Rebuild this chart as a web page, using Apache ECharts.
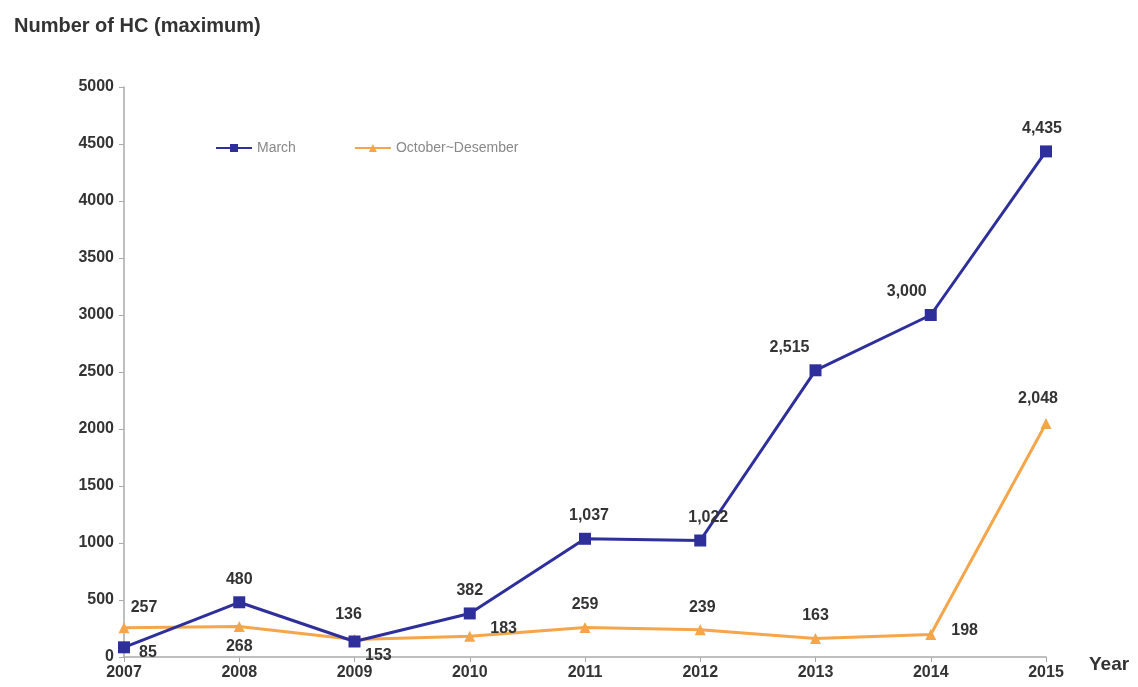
<!DOCTYPE html>
<html>
<head>
<meta charset="utf-8">
<script src="https://cdn.jsdelivr.net/npm/echarts@6/dist/echarts.min.js"></script>
<style>html,body{margin:0;padding:0;background:#fff}#c{width:1138px;height:687px}</style>
</head>
<body>
<div id="c"></div>
<script>
const years = ['2007','2008','2009','2010','2011','2012','2013','2014','2015'];
const march = [85, 480, 136, 382, 1037, 1022, 2515, 3000, 4435];
const octDec = [257, 268, 153, 183, 259, 239, 163, 198, 2048];
const yTicks = [0, 500, 1000, 1500, 2000, 2500, 3000, 3500, 4000, 4500, 5000];

// label placement (style only)
const marchLabelPos = [['right',[4,5]],['top',[0,-4]],['top',[-6,-8]],['top',[0,-4]],['top',[4,-4]],['top',[8,-4]],['top',[-26,-4]],['top',[-24,-4]],['top',[-4,-4]]];
const octLabelPos = [['top',[20,-2]],['bottom',[0,2]],['right',[0,16]],['right',[10,-8]],['top',[0,-4]],['top',[2,-4]],['top',[0,-4]],['right',[10,-4]],['top',[-8,-6]]];

const fmt = v => v >= 1000 ? v.toLocaleString('en-US') : String(v);
const lblStyle = {fontFamily:'Liberation Sans, Arial, sans-serif', fontWeight:'bold', fontSize:16, color:'#333'};

function build(vals, pos) {
  return vals.map((v,i) => ({value:v, label:Object.assign({show:true, position:pos[i][0], offset:pos[i][1], formatter:fmt(v)}, lblStyle)}));
}

const chart = echarts.init(document.getElementById('c'), null, {renderer:'canvas'});
chart.setOption({
  backgroundColor:'#fff',
  animation:false,
  grid:{left:124, right:92, top:87, bottom:30, containLabel:false},
  title:{text:'Number of HC (maximum)', left:9, top:11,
    textStyle:{fontFamily:'Liberation Sans, Arial, sans-serif', fontSize:20, fontWeight:'bold', color:'#333'}},
  graphic:[{type:'text', left:1089, top:655, style:{text:'Year', font:'bold 19px Liberation Sans, Arial, sans-serif', fill:'#333'}}],
  legend:{
    left:210, top:136, itemGap:58, itemWidth:36, itemHeight:10,
    textStyle:{fontFamily:'Liberation Sans, Arial, sans-serif', fontSize:14, color:'#888'},
    data:['March','October~Desember']
  },
  xAxis:{
    type:'category', data:years, boundaryGap:false,
    axisLine:{lineStyle:{color:'#aaa', width:1.5}},
    axisTick:{show:true, alignWithLabel:true, length:5, lineStyle:{color:'#aaa'}},
    axisLabel:{fontFamily:'Liberation Sans, Arial, sans-serif', fontWeight:'bold', fontSize:16, color:'#333', margin:8}
  },
  yAxis:{
    type:'value', min:0, max:5000, interval:500,
    axisLine:{show:true, lineStyle:{color:'#aaa', width:1.5}},
    axisTick:{show:true, length:5, lineStyle:{color:'#aaa'}},
    splitLine:{show:false},
    axisLabel:{fontFamily:'Liberation Sans, Arial, sans-serif', fontWeight:'bold', fontSize:16, color:'#333', margin:10,
      formatter: v => yTicks.includes(v) ? String(v) : ''}
  },
  series:[
    {name:'March', type:'line', data:build(march, marchLabelPos), symbol:'rect', symbolSize:12,
      itemStyle:{color:'#2f2f9c'}, lineStyle:{color:'#2f2f9c', width:3}, z:3},
    {name:'October~Desember', type:'line', data:build(octDec, octLabelPos), symbol:'triangle', symbolSize:11,
      itemStyle:{color:'#f5a54a'}, lineStyle:{color:'#f5a54a', width:3}, z:2}
  ]
});
</script>
</body>
</html>
